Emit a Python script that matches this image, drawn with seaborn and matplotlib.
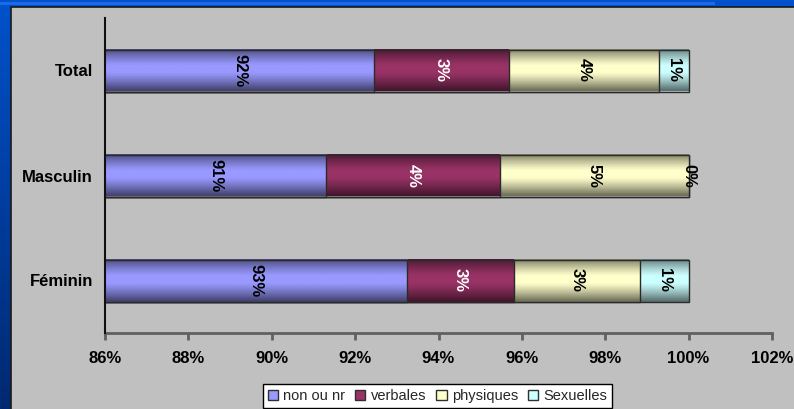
import numpy as np
import pandas as pd
import matplotlib
matplotlib.use("Agg")
import matplotlib.pyplot as plt
from matplotlib.patches import Rectangle, Patch
import seaborn as sns

# Répartition des violences subies, par sexe (en %)
categories = ["Total", "Masculin", "Féminin"]
series_names = ["non ou nr", "verbales", "physiques", "Sexuelles"]
non_ou_nr = [92.45, 91.31, 93.25]
verbales = [3.23, 4.16, 2.55]
physiques = [3.61, 4.53, 3.04]
sexuelles = [0.71, 0.00, 1.16]
x_ticks = [86, 88, 90, 92, 94, 96, 98, 100, 102]

colors = ["#9999FF", "#993366", "#FFFFCC", "#CCFFFF"]
label_colors = ["black", "white", "black", "black"]

sns.set_theme(style="white")
plt.rcParams["font.family"] = ["Liberation Sans", "DejaVu Sans"]

W, H = 794, 409
fig = plt.figure(figsize=(W / 100, H / 100), dpi=100)

# slide background: blue frame with grey chart area
bg = fig.add_axes([0, 0, 1, 1], zorder=-5)
grad = np.linspace(0, 1, 200)[:, None]
top_c = np.array([0.0, 0.32, 0.80])
bot_c = np.array([0.0, 0.16, 0.44])
bg_img = (top_c * (1 - grad) + bot_c * grad)[:, None, :].repeat(2, axis=1)
bg.imshow(bg_img, extent=(0, W, H, 0), aspect="auto", origin="upper")
bg.add_patch(Rectangle((0, 1.5), 715, 3, facecolor="#1A6BE8", edgecolor="none"))
bg.add_patch(Rectangle((10.5, 6.5), W + 10, H + 10, facecolor="#C0C0C0",
                       edgecolor="#1A1A1A", linewidth=1.2))
bg.set_xlim(0, W)
bg.set_ylim(H, 0)
bg.axis("off")

ax = fig.add_axes([105 / W, 1 - 333 / H, (772 - 105) / W, (333 - 18) / H])
ax.set_facecolor("none")
x_min, x_max = x_ticks[0], x_ticks[-1]

data = pd.DataFrame({"categorie": categories, "non ou nr": non_ou_nr,
                     "verbales": verbales, "physiques": physiques,
                     "Sexuelles": sexuelles})
cum = data[series_names].cumsum(axis=1)

# vertical shading profile for the cylinder-like bars
t = np.linspace(0, 1, 120)
shade = 0.55 * np.clip((np.abs(t - 0.47) - 0.08) / 0.42, 0, 1) ** 1.2

# stacked bars: draw cumulative totals from the right-most series back
for i in reversed(range(len(series_names))):
    name = series_names[i]
    z = 2 + 2 * (len(series_names) - i)
    n_before = len(ax.patches)
    sns.barplot(x=cum[name], y=data["categorie"], color=colors[i], orient="h",
                width=0.4, ax=ax, saturation=1, zorder=z)
    base = np.array(matplotlib.colors.to_rgb(colors[i]))
    img = (base[None, :] * (1 - shade[:, None]))[:, None, :].repeat(2, axis=1)
    for p in ax.patches[n_before:]:
        x0, y0, w, h = p.get_x(), p.get_y(), p.get_width(), p.get_height()
        x_left = max(x0, x_min)
        x_right = x0 + w
        if x_right > x_left:
            ax.imshow(img, extent=(x_left, x_right, y0 + h, y0),
                      origin="upper", aspect="auto", zorder=z,
                      interpolation="bilinear")
        p.set_facecolor("none")
        p.set_edgecolor("#2A2A2A")
        p.set_linewidth(1.0)
        p.set_zorder(z + 0.5)

# value labels, centred in the visible part of each segment
series_vals = [non_ou_nr, verbales, physiques, sexuelles]
for j, cat in enumerate(categories):
    left = 0.0
    for i, vals in enumerate(series_vals):
        v = vals[j]
        a = max(left, x_min)
        b = left + v
        ax.text((a + b) / 2, j, f"{round(v)}%", rotation=270, ha="center",
                va="center", fontsize=12, fontweight="bold",
                color=label_colors[i], zorder=20)
        left += v

ax.set_xlim(x_min, x_max)
ax.set_ylim(2.5, -0.5)
ax.set_xticks(x_ticks)
ax.set_xticklabels([f"{v}%" for v in x_ticks], fontsize=12, fontweight="bold")
ax.set_yticks(range(len(categories)))
ax.set_yticklabels(categories, fontsize=12, fontweight="bold")
ax.set_xlabel("")
ax.set_ylabel("")
ax.tick_params(axis="x", length=5, width=2, color="#606060", pad=8,
               direction="out", bottom=True, labelcolor="black")
ax.tick_params(axis="y", length=0, pad=8.6, labelcolor="black")
for s in ["top", "right"]:
    ax.spines[s].set_visible(False)
ax.spines["left"].set_color("#101010")
ax.spines["left"].set_linewidth(1.5)
ax.spines["left"].set_zorder(30)
ax.spines["bottom"].set_color("#606060")
ax.spines["bottom"].set_linewidth(2)

handles = [Patch(facecolor=c, edgecolor="#303030", linewidth=1) for c in colors]
leg = fig.legend(handles, series_names, loc="upper center",
                 bbox_to_anchor=(437.5 / W, 1 - 384 / H), ncol=4,
                 fontsize=10.5, frameon=True, fancybox=False,
                 handlelength=0.7, handleheight=0.7, handletextpad=0.35,
                 columnspacing=0.7, borderpad=0.35, borderaxespad=0)
leg.get_frame().set_facecolor("white")
leg.get_frame().set_edgecolor("black")
leg.get_frame().set_linewidth(1)
leg.get_frame().set_alpha(1)

fig.savefig("out.png", dpi=100)
